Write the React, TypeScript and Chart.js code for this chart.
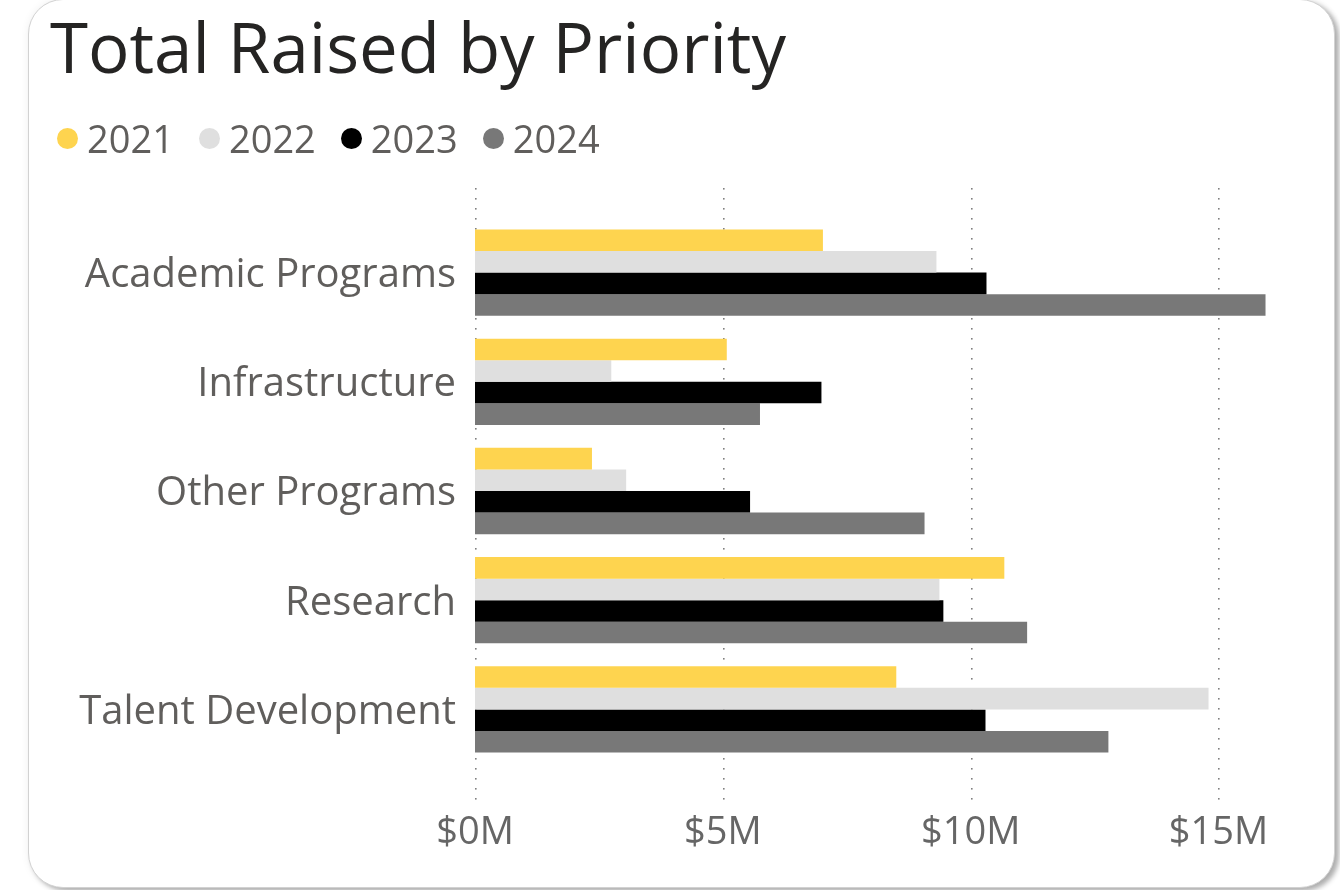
import React, { useEffect, useRef } from "react";
import { Chart, registerables } from "chart.js";

Chart.register(...registerables);

const categories = ["Academic Programs", "Infrastructure", "Other Programs", "Research", "Talent Development"];
const years = ["2021", "2022", "2023", "2024"];
const values2021 = [7.02, 5.08, 2.36, 10.68, 8.5];
const values2022 = [9.31, 2.75, 3.05, 9.37, 14.8];
const values2023 = [10.32, 6.99, 5.55, 9.45, 10.3];
const values2024 = [15.95, 5.75, 9.07, 11.14, 12.78];
const seriesColors = ["#FED44F", "#DFDFDF", "#000000", "#787878"];
const xTickValues = [0, 5, 10, 15];
const xMin = 0;
const xMax = 16;

const FONT = "'Open Sans', 'Noto Sans', sans-serif";

const dottedGrid = {
  id: "dottedGrid",
  beforeDatasetsDraw(chart: any) {
    const { ctx, chartArea, scales } = chart;
    const xs = scales.x;
    ctx.save();
    ctx.fillStyle = "#808080";
    for (const v of xTickValues) {
      const px = Math.round(xs.getPixelForValue(v));
      for (let y = chartArea.top - 30; y <= chartArea.bottom + 35; y += 10) {
        ctx.fillRect(px, y, 1.6, 1.6);
      }
    }
    ctx.restore();
  },
};

export default function App() {
  const canvasRef = useRef<HTMLCanvasElement | null>(null);

  useEffect(() => {
    if (!canvasRef.current) return;
    const allValues = [values2021, values2022, values2023, values2024];
    const chart = new Chart(canvasRef.current, {
      type: "bar",
      data: {
        labels: categories,
        datasets: years.map((y, i) => ({
          label: y,
          data: allValues[i],
          backgroundColor: seriesColors[i],
          borderWidth: 0,
          categoryPercentage: 0.79,
          barPercentage: 1.0,
        })),
      },
      options: {
        indexAxis: "y",
        animation: false,
        responsive: false,
        maintainAspectRatio: false,
        layout: { padding: { top: 218, left: 0, right: 72, bottom: 16 } },
        plugins: {
          legend: { display: false },
          title: { display: false },
          tooltip: { enabled: false },
        },
        scales: {
          x: {
            type: "linear",
            min: xMin,
            max: xMax,
            grid: { display: false, drawTicks: false },
            border: { display: false },
            afterBuildTicks(scale: any) {
              scale.ticks = xTickValues.map((v) => ({ value: v }));
            },
            afterFit(scale: any) {
              scale.height = 110;
            },
            ticks: {
              padding: 46,
              color: "#666666",
              font: { family: FONT, size: 38 },
              callback: (v: any) => "$" + v + "M",
            },
          },
          y: {
            grid: { display: false, drawTicks: false },
            border: { display: false },
            afterFit(scale: any) {
              scale.width = 475;
            },
            ticks: {
              padding: 19,
              labelOffset: 3,
              color: "#605E5C",
              font: { family: FONT, size: 40 },
            },
          },
        },
      },
      plugins: [dottedGrid],
    });
    return () => chart.destroy();
  }, []);

  return (
    <div
      style={{
        position: "absolute",
        left: 0,
        top: 0,
        width: 1340,
        height: 890,
        overflow: "hidden",
        background: "#ffffff",
        fontFamily: FONT,
      }}
    >
      <div
        style={{
          position: "absolute",
          left: 28,
          top: -1,
          width: 1307,
          height: 889,
          boxSizing: "border-box",
          borderRadius: 35,
          border: "1px solid #d2d2d2",
          background: "#ffffff",
          boxShadow: "4px 3px 5px rgba(0,0,0,0.3), 0 0 8px rgba(0,0,0,0.06)",
        }}
      />
      <canvas
        ref={canvasRef}
        width={1340}
        height={890}
        style={{ position: "absolute", left: 0, top: 0, width: 1340, height: 890 }}
      />
      <div
        style={{
          position: "absolute",
          left: 50,
          top: 12,
          fontSize: 69,
          lineHeight: 1,
          color: "#252423",
          whiteSpace: "nowrap",
        }}
      >
        Total Raised by Priority
      </div>
      <div
        style={{
          position: "absolute",
          left: 57,
          top: 119,
          display: "flex",
          alignItems: "center",
          fontSize: 38,
          lineHeight: 1,
          color: "#605E5C",
          whiteSpace: "nowrap",
        }}
      >
        {years.map((y, i) => (
          <div key={y} style={{ display: "flex", alignItems: "center", marginRight: 25 }}>
            <span
              style={{
                display: "inline-block",
                width: 21,
                height: 21,
                borderRadius: "50%",
                background: seriesColors[i],
                marginRight: 9,
              }}
            />
            <span>{y}</span>
          </div>
        ))}
      </div>
    </div>
  );
}
